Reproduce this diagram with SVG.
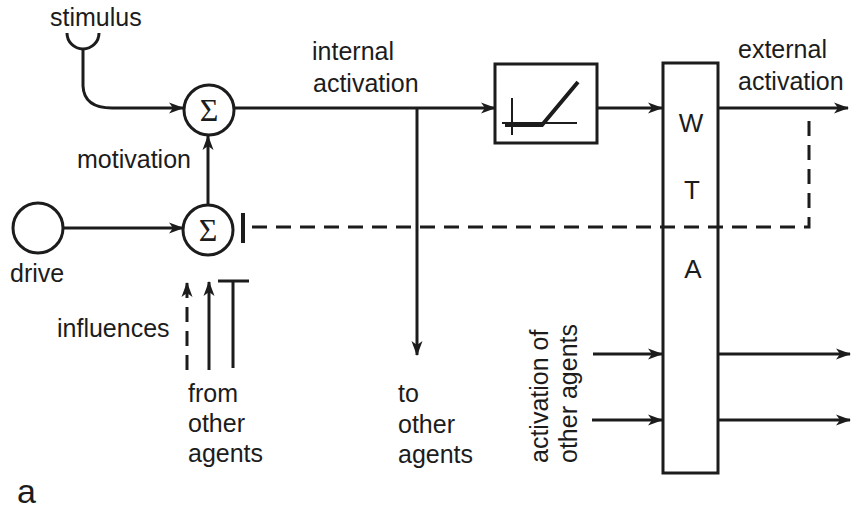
<svg xmlns="http://www.w3.org/2000/svg" width="852" height="513" viewBox="0 0 852 513">
<defs>
<style>
.ln{stroke:#1c1c1c;stroke-width:3;fill:none}
.thin{stroke:#1c1c1c;stroke-width:2;fill:none}
.dash{stroke-dasharray:15 9}
text{font-family:"Liberation Sans",Arial,Helvetica,sans-serif;font-size:25px;fill:#1c1c1c}
.sig{font-family:"Liberation Serif","Times New Roman",serif;font-size:32px;text-anchor:middle}
.wta{font-size:26px;text-anchor:middle}
</style>
<marker id="arr" viewBox="0 0 15 12" markerWidth="15" markerHeight="12" refX="14" refY="6" orient="auto" markerUnits="userSpaceOnUse">
<path d="M0,0.5 L15,6 L0,11.5 L4,6 Z" fill="#1c1c1c"/>
</marker>
</defs>
<rect width="852" height="513" fill="#ffffff"/>

<g id="connectors">
<path class="ln" d="M83,49 L83,86 Q84,108 112,108 L183,108" marker-end="url(#arr)"/>
<path class="ln" d="M63,228 H183" marker-end="url(#arr)"/>
<path class="ln" d="M208,205 V136" marker-end="url(#arr)"/>
<path class="ln" d="M234,108 H495" marker-end="url(#arr)"/>
<path class="ln" d="M417,108 V355" marker-end="url(#arr)"/>
<path class="ln" d="M597,108 H662" marker-end="url(#arr)"/>
<path class="ln" d="M718,108 H848" marker-end="url(#arr)"/>
<path class="ln dash" d="M809,121 V227 H246"/>
<path class="ln" d="M243,213 V243" style="stroke-width:4"/>
<path class="ln dash" d="M187,370 V292"/>
<path class="ln" d="M187,292 V283" marker-end="url(#arr)"/>
<path class="ln" d="M209,370 V282" marker-end="url(#arr)"/>
<path class="ln" d="M233,368 V281 M218,281 H249"/>
<path class="ln" d="M593,354 H662" marker-end="url(#arr)"/>
<path class="ln" d="M592,420 H662" marker-end="url(#arr)"/>
<path class="ln" d="M718,354 H850" marker-end="url(#arr)"/>
<path class="ln" d="M718,420 H850" marker-end="url(#arr)"/>
</g>

<g id="stimulus">
<path class="ln" d="M67,33 A16,16 0 0 0 99,33"/>
<text x="50" y="26">stimulus</text>
</g>

<g id="sum-top">
<circle class="ln" cx="209" cy="110" r="25" fill="#fff"/>
<text class="sig" x="209" y="121">Σ</text>
</g>

<g id="sum-bottom">
<circle class="ln" cx="208" cy="230" r="25" fill="#fff"/>
<text class="sig" x="208" y="241">Σ</text>
</g>

<g id="drive">
<circle class="ln" cx="38" cy="228" r="25"/>
<text x="10" y="282">drive</text>
</g>

<g id="threshold">
<rect class="ln" x="495" y="64" width="102" height="79"/>
<path class="thin" d="M512,98 V135 M502,123 H577"/>
<path d="M505,125 H542 L578,82" stroke="#1c1c1c" stroke-width="4" fill="none"/>
</g>

<g id="wta">
<rect class="ln" x="663" y="63" width="55" height="410"/>
<text class="wta" x="691" y="132">W</text>
<text class="wta" x="692" y="199">T</text>
<text class="wta" x="693" y="278">A</text>
</g>

<g id="labels">
<text x="77" y="168">motivation</text>
<text x="57" y="337">influences</text>
<text x="188" y="402">from</text>
<text x="188" y="432">other</text>
<text x="188" y="462">agents</text>
<text x="312" y="60">internal</text>
<text x="313" y="92">activation</text>
<text x="738" y="58">external</text>
<text x="738" y="90">activation</text>
<text x="398" y="402">to</text>
<text x="398" y="433">other</text>
<text x="398" y="463">agents</text>
<text transform="translate(548,463) rotate(-90)">activation of</text>
<text transform="translate(577,463) rotate(-90)">other agents</text>
<text x="17" y="503" style="font-size:34px">a</text>
</g>
</svg>
